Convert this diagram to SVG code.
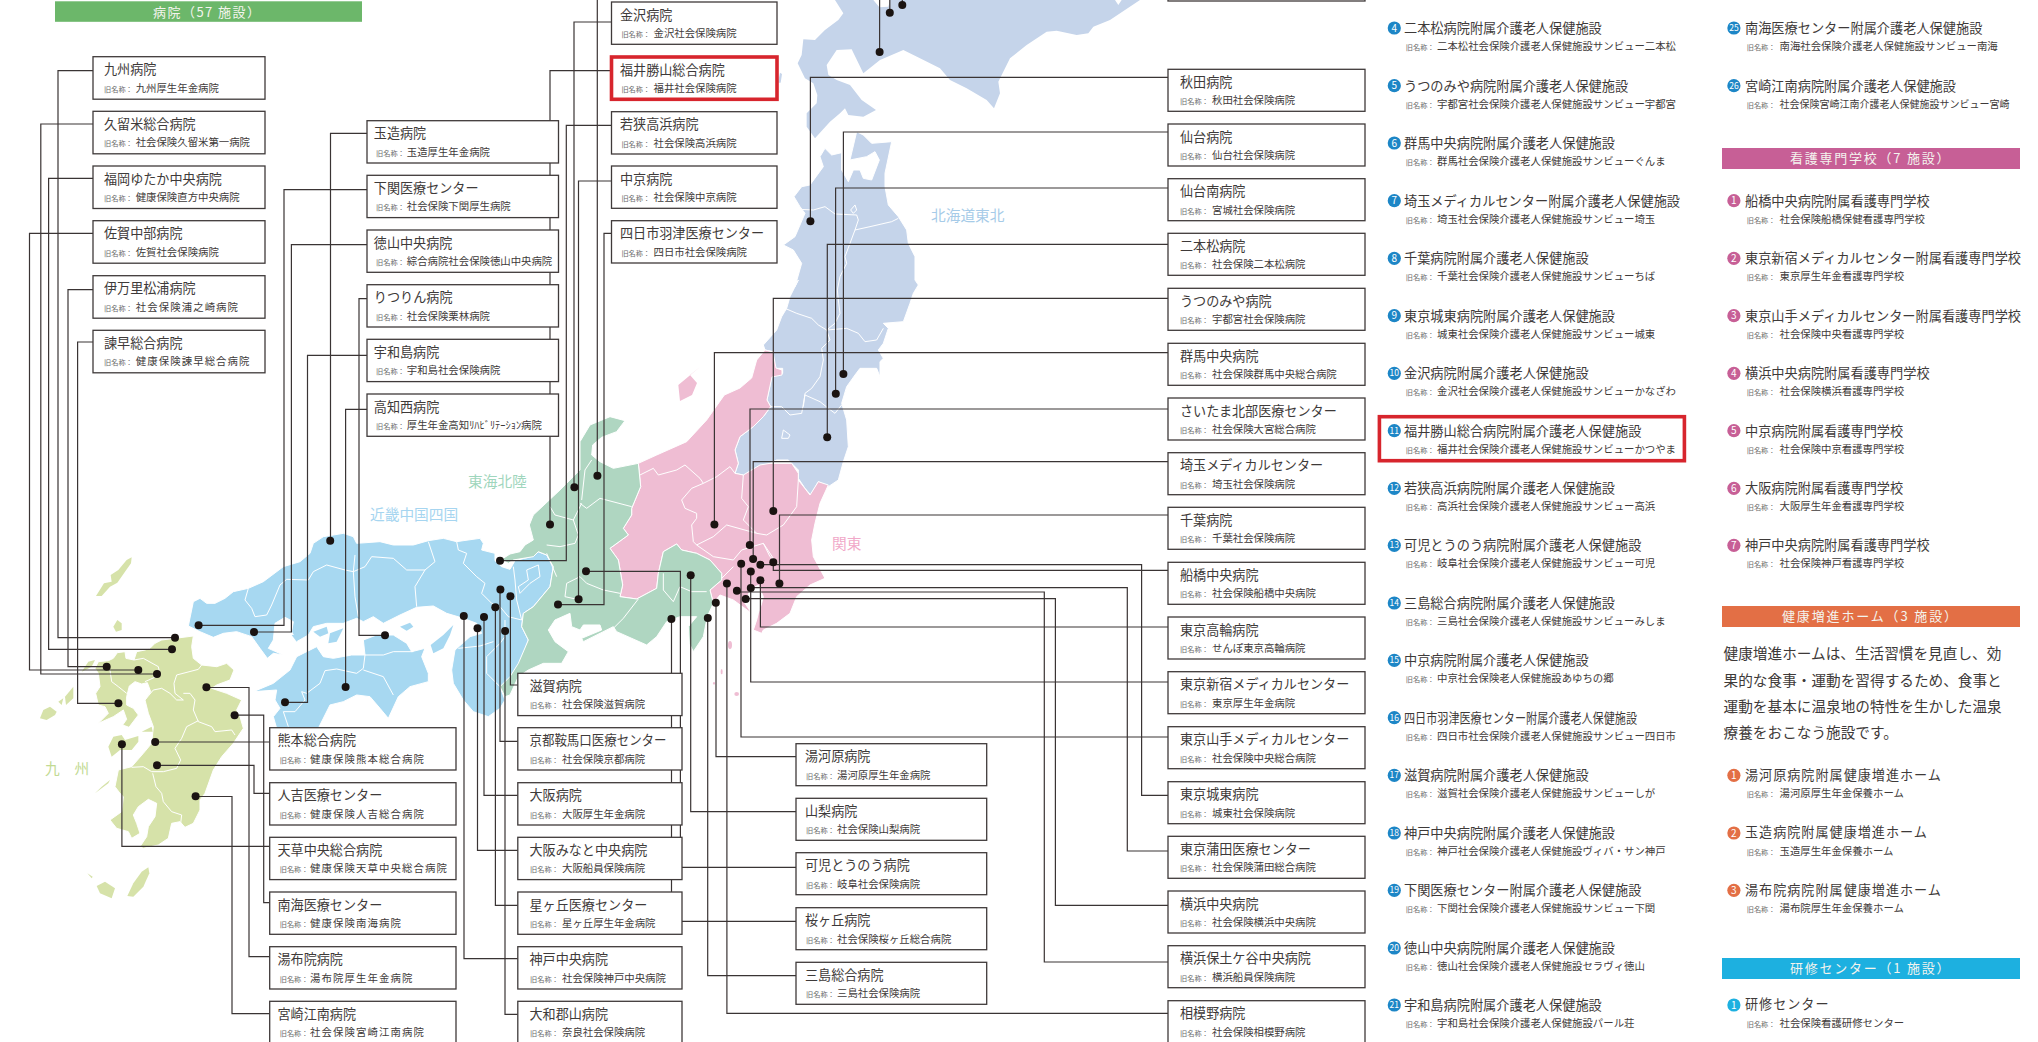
<svg xmlns="http://www.w3.org/2000/svg" width="2038" height="1042" viewBox="0 0 2038 1042">
<style>
text{font-family:"Noto Sans CJK JP","Noto Sans",sans-serif;fill:#3e3a39}
.b{fill:#fff;stroke:#3f3a3a;stroke-width:1.3}
.r{fill:#fff;stroke:#d7252d;stroke-width:3.6}
.t{font-size:13.1px;transform:translateY(-.6px)}
#care-list .t,#nursing-list .t{font-size:13.2px;transform:none}
.s{font-size:10.4px}
.k{font-size:7.2px;fill:#6a6a6a;letter-spacing:0}
.w{letter-spacing:1.1px}
.sp{letter-spacing:1px}
.c{fill:none;stroke:#3a3434;stroke-width:1.2}
.d{fill:#1a1311}
.m{stroke:#fff;stroke-width:3;stroke-linejoin:round}
.l{fill:none;stroke:#fff;stroke-width:3;stroke-linejoin:round}
.ky{fill:#d6e2a9}.bl{fill:#a7d8f1}.gr{fill:#afd6c1}.pk{fill:#efbdd3}.hk{fill:#c5d4ea}
.h{font-size:13px;fill:#f4f4ee}
.ml{font-size:14.7px}
.p{font-size:14.65px}
.n{font-size:10px;fill:#fff;text-anchor:middle}
.n2{font-size:8.5px;fill:#fff;text-anchor:middle}
</style>

<g id="map">
<g transform="translate(30 530) scale(.33333)" id="map-kyushu">
<path class="ky m" d="M375,340L395,330L435,325L490,318L485,350L490,385L515,405L560,410L590,400L612,420L600,450L560,465L545,475L590,490L635,510L620,540L630,560L640,595L610,640L575,680L550,720L525,790L510,810L510,840L490,880L465,892L450,875L425,880L415,925L385,945L340,955L330,950L350,920L355,890L375,860L380,820L355,808L325,830L310,855L320,880L330,910L305,925L295,905L260,895L240,870L275,845L280,800L270,790L255,770L265,720L305,710L340,670L365,640L370,590L355,550L345,510L362,485L352,458L335,462L315,455L298,468L290,500L290,525L310,535L325,555L297,592L278,585L290,568L280,540L250,560L205,580L235,550L225,530L205,525L197,490L210,470L205,430L195,415L205,395L235,392L250,385L262,368L285,365L288,385L312,390L320,365L345,360L360,355Z"/>
<path class="ky" d="M305,82L290,90L265,120L242,135L245,155L222,160L198,198L215,198L240,170L262,158L285,125L303,100Z"/>
<path class="ky" d="M262,270L250,290L258,305L275,300L275,280Z"/>
<path class="ky" d="M30,565L40,540L60,530L80,545L75,555L50,570Z"/>
<path class="ky" d="M130,470L105,500L108,525L130,505Z"/>
<path class="ky" d="M85,515L100,505L95,525Z"/>
<path class="ky" d="M235,650L250,620L275,615L285,630L325,618L325,635L305,660L270,660L245,680Z"/>
<path class="ky" d="M335,605L365,590L368,605Z"/>
<path class="ky" d="M195,790L215,770L240,750L235,760L215,775Z"/>
<path class="ky" d="M200,1068L225,1055L255,1075L245,1105L210,1090Z"/>
<path class="ky" d="M355,1012L358,1030L340,1070L310,1100L292,1098L310,1060L335,1025Z"/>
<path class="ky" d="M172,1030L188,1040L185,1045Z"/>
<path class="ky" d="M155,425L175,395L195,390L185,410Z"/>
<path class="l" d="M515,405L505,418L440,435L432,460L435,490L460,510L440,510L420,490L395,475L370,480L345,510"/>
<path class="l" d="M460,490L480,490L495,510L490,540L505,575L545,590L555,605L605,600L615,615"/>
<path class="l" d="M505,572L470,590L455,625L435,655L452,690L440,715L400,725L365,725L340,710L305,712"/>
<path class="l" d="M368,730L378,770L395,790L400,815L425,845L455,855L452,880"/>
<path class="l" d="M312,390L340,385L385,410L390,435L345,455"/>
<path class="l" d="M240,420L245,455L265,470L290,490"/>
</g>
<g transform="translate(180 520) scale(.33333)" id="map-kinki">
<path class="bl m" d="M25,318L40,245L60,235L80,250L105,250L135,235L160,215L205,205L250,185L310,140L360,125L390,100L400,70L430,50L490,40L520,50L530,70L600,65L640,75L700,75L745,62L790,55L830,65L850,62L900,55L910,70L905,90L945,100L945,122L965,140L990,148L1005,122L1060,108L1074,95L1100,105L1120,140L1110,200L1060,260L1030,280L1025,320L1045,360L1020,430L1015,470L960,500L975,540L960,565L925,590L880,575L850,540L820,490L815,450L825,390L870,350L905,340L890,310L850,295L800,280L760,258L710,262L660,285L610,310L580,290L550,305L530,295L490,310L440,310L400,320L385,345L350,365L335,335L340,305L315,292L285,310L280,360L265,385L310,405L280,400L262,415L240,385L215,350L170,335L130,340L100,352L60,335Z"/>
<path class="bl" d="M820,315L790,345L752,375L760,400L790,385L810,345Z"/>
<path class="bl" d="M660,320L690,308L700,320L680,332Z"/>
<path class="bl" d="M400,335L440,320L445,340L420,350Z"/>
<path class="bl" d="M450,340L490,325L470,365L445,370Z"/>
<path class="bl" d="M335,345L355,345L350,365Z"/>
<path class="bl m" d="M220,515L280,490L330,450L350,410L410,380L430,410L460,415L515,405L555,405L550,360L590,345L640,345L680,370L695,395L735,385L725,410L745,460L745,485L690,500L655,530L625,595L600,565L570,530L530,525L490,545L450,555L415,625L290,625L280,590L300,565L285,540L290,510Z"/>
<path class="l" d="M205,205L195,240L215,265L225,290L260,285L275,255L300,195L320,178L385,180L400,155L440,135L495,150L520,155L525,105"/>
<path class="l" d="M520,155L525,230L535,290"/>
<path class="l" d="M520,155L555,140L575,110L640,115L680,150L735,150L765,125L745,65"/>
<path class="l" d="M735,150L705,200L710,260"/>
<path class="l" d="M830,65L835,90L860,100L850,130L890,170L915,190L905,220L935,250L960,260L985,290L1025,300"/>
<path class="l" d="M1000,140L1005,180L1010,240L1025,300"/>
<path class="l" d="M1040,150L1075,135L1080,170L1050,190L1020,220L1015,200L1045,180Z"/>
<path class="l" d="M975,300L975,350L960,370L920,410L920,460L960,500"/>
<path class="l" d="M835,385L900,378L940,365"/>
<path class="l" d="M555,405L550,445L530,460L470,447L435,452L420,490L380,520L365,515L375,540L345,575L310,575L325,620"/>
<path class="l" d="M555,405L610,405L640,395L700,395"/>
<path class="l" d="M550,450L610,470L640,525"/>
</g>
<g transform="translate(760 0) scale(.33333)" id="map-tohoku">
<path class="hk" d="M225,0L250,40L235,60L195,90L165,120L130,118L125,165L113,190L135,235L160,250L172,285L170,310L140,340L140,380L165,415L210,365L240,340L255,325L265,345L310,350L348,330L305,300L270,255L230,240L205,225L200,195L230,150L275,148L310,220L360,180L430,150L480,175L540,205L570,240L620,265L680,300L702,325L720,280L715,245L750,175L800,135L860,95L890,92L950,105L985,100L1000,80L1050,60L1104,24L1140,0L1085,0L1075,15L1065,0L390,0L385,20L358,22L340,0Z"/>
<path class="hk" d="M60,218L66,222L62,248L54,248Z"/>
<path class="hk m" d="M195,445L215,465L245,458L245,510L265,545L280,510L300,510L310,535L335,540L358,480L345,455L320,470L270,480L290,395L310,405L335,430L395,425L375,520L375,560L385,615L415,650L440,690L445,730L465,770L465,840L475,855L460,880L450,910L430,965L370,970L385,985L370,1030L355,1050L370,1075L360,1085L360,1130L350,1105L300,1105L285,1125L260,1160L245,1210L260,1260L265,1340L250,1385L235,1440L205,1460L175,1445L152,1485L135,1465L115,1435L115,1410L85,1380L50,1380L10,1400L-30,1415L-60,1435L-50,1425L-75,1420L-65,1390L-75,1350L-60,1310L-20,1280L10,1250L32,1220L21,1200L35,1130L68,1120L68,1105L40,1105L40,1055L15,1050L10,1035L50,990L65,950L80,925L90,890L115,840L105,860L125,790L100,750L70,735L105,710L135,640L120,620L102,590L125,560L150,555L190,500L180,470Z"/>
<path class="l" d="M120,628L160,630L195,620L225,642L290,645L295,660L285,690L330,680L395,665L415,655"/>
<path class="l" d="M272,630L285,615L290,630L280,640Z"/>
<path class="l" d="M285,690L270,730L255,770L260,790L240,830L232,870L235,900L240,940L225,970L200,990L210,1020L185,1045L190,1080L180,1130L155,1165L135,1180L130,1220"/>
<path class="l" d="M75,925L110,940L155,955L175,975L200,990L260,985L295,1000L315,1025L350,1020L370,985"/>
<path class="l" d="M135,1185L180,1205L205,1225L225,1240L245,1215"/>
<path class="l" d="M25,1220L65,1220L90,1245L125,1240L135,1185"/>
<path class="l" d="M70,1290L90,1305L85,1315L65,1315Z"/>
</g>
<g transform="translate(500 400) scale(.33333)" id="map-chubu">
<path class="pk m" d="M415,190L470,165L560,125L620,60L673,-15L720,-36L755,-66L770,-120L795,-150L819,-144L828,-96L846,-90L846,-75L816,-69L801,0L812,20L790,50L760,80L720,110L705,150L715,190L705,220L730,225L780,195L810,190L875,190L895,220L895,240L930,285L955,245L985,255L960,310L945,370L935,420L940,470L975,535L930,555L890,590L870,640L830,670L790,690L785,700L760,690L770,660L775,640L785,610L790,590L775,555L750,570L735,610L755,640L700,600L660,585L640,610L630,570L665,540L665,520L630,480L590,460L545,450L530,432L490,455L475,520L470,565L410,597L360,590L368,555L355,480L330,445L385,405L370,385L395,345L395,325L422,260Z"/>
<path class="pk" d="M600,-99L570,-75L591,-51L576,-15L540,3L535,-45Z"/>
<ellipse class="pk" cx="690" cy="735" rx="6" ry="12"/><ellipse class="pk" cx="665" cy="815" rx="3" ry="8"/><ellipse class="pk" cx="710" cy="882" rx="7" ry="6"/><ellipse class="pk" cx="642" cy="850" rx="3" ry="4"/>
<path class="gr m" d="M240,125L270,75L330,50L375,62L350,95L305,112L278,135L275,165L300,185L340,205L415,190L422,260L395,325L395,345L370,385L385,405L330,445L355,480L368,555L360,590L410,597L470,565L475,520L490,455L530,432L545,450L590,460L630,480L665,520L665,540L630,570L640,610L622,650L610,710L580,755L568,730L565,680L590,650L540,650L500,665L470,710L440,735L350,695L340,680L250,725L245,715L305,690L300,675L250,675L240,690L215,680L210,640L165,660L145,690L165,725L205,755L185,790L130,790L85,810L55,830L30,885L15,890L0,860L30,830L55,790L85,720L65,680L70,640L100,620L150,560L160,500L140,465L115,455L100,470L40,480L25,490L5,478L30,462L60,455L75,435L100,420L88,375L100,345L180,270L240,210Z"/>
<path class="l" d="M420,225L460,205L475,225L530,210L555,195L600,235L610,250L575,265L545,300L555,325L590,340L590,355L575,375L580,425L590,435"/>
<path class="l" d="M610,250L650,230L690,200L705,220"/>
<path class="l" d="M730,225L725,295L745,320L730,360L770,400"/>
<path class="l" d="M895,240L890,320L850,375L800,405L770,400L680,375L640,410L590,435"/>
<path class="l" d="M590,435L640,470L700,480L725,450L790,430L820,475"/>
<path class="l" d="M665,535L700,500"/>
<path class="l" d="M790,430L810,470L835,490"/>
<path class="l" d="M240,310L260,325L300,295L395,320"/>
<path class="l" d="M275,180L255,210L245,300"/>
<path class="l" d="M150,320L165,345L220,360L245,310"/>
<path class="l" d="M140,435L180,440L225,430L235,405L220,360"/>
<path class="l" d="M140,460L170,530"/>
<path class="l" d="M200,550L240,530L260,550L310,570L360,580"/>
<path class="l" d="M200,550L195,590L240,600"/>
<path class="l" d="M415,597L370,655L340,685"/>
<path class="l" d="M490,520L490,570L520,605L540,560L575,575L620,575"/>
</g>
<text class="ml" x="45" y="774" style="fill:#c2da93">九　州</text>
<text class="ml" x="370" y="520" style="fill:#a6d5f0">近畿中国四国</text>
<text class="ml" x="468" y="487" style="fill:#9fd6bd">東海北陸</text>
<text class="ml" x="931" y="221" style="fill:#a6cbe8">北海道東北</text>
<text class="ml" x="832" y="549" style="fill:#f1a9c9">関東</text>
</g>

<g id="connectors">
<path class="c" d="M93,70.7H58V637.7H175"/>
<path class="c" d="M93,124H40.8V674H157"/>
<path class="c" d="M93,178.3H48.6V649.3H172"/>
<path class="c" d="M93,233.3H29.5V670H138.3"/>
<path class="c" d="M93,289.7H68V666.7H106.7"/>
<path class="c" d="M93,342H77.6V703.3H118.4"/>
<path class="c" d="M367,133.3H330.5V540.7"/>
<path class="c" d="M367,189.7H284V625.3H198.6"/>
<path class="c" d="M367,244.7H291.4V632H254"/>
<path class="c" d="M367,298.7H359V635.3H385"/>
<path class="c" d="M367,355.3H307.5V702.3H285"/>
<path class="c" d="M367,409.3H345.6V687"/>
<path class="c" d="M611.5,22H574V487.3"/>
<path class="c" d="M611.5,70.7H550V524.7"/>
<path class="c" d="M611.5,125.3H566.3V560.7H500"/>
<path class="c" d="M611.5,181H578.5V599.3"/>
<path class="c" d="M611.5,233.3H604V604.7H558"/>
<path class="c" d="M597.3,0V475.7"/>
<path class="c" d="M879.6,0V52"/>
<path class="c" d="M889.8,0V12.7"/>
<path class="c" d="M902.3,0V5"/>
<path class="c" d="M1168,77.3H810.4V221.3"/>
<path class="c" d="M1168,132H843.4V374"/>
<path class="c" d="M1168,188H835.6V393.7"/>
<path class="c" d="M1168,244.3H827.3V437.3"/>
<path class="c" d="M1168,298.3H773.3V511"/>
<path class="c" d="M1168,352.7H714.4V524.7"/>
<path class="c" d="M1168,409H750V545"/>
<path class="c" d="M1168,461.7H753.2V559"/>
<path class="c" d="M1168,515H779.5V583.5"/>
<path class="c" d="M1168,570.3H773.3V562.3"/>
<path class="c" d="M1168,627H760.4V580"/>
<path class="c" d="M1168,682H750.7V571.5"/>
<path class="c" d="M1168,737H741V564"/>
<path class="c" d="M1168,795.3H1141.6V564.7H760.4"/>
<path class="c" d="M1168,851H1127.3V587.7H750.7"/>
<path class="c" d="M1168,905.3H1055.4V598.7H745.6"/>
<path class="c" d="M1168,962H1044.3V592H736.7"/>
<path class="c" d="M1168,1013.3H726.9V583.7"/>
<path class="c" d="M796,756.7H716V603"/>
<path class="c" d="M796,811.7H690.7V575.3"/>
<path class="c" d="M796,867.3H680.4V571.3H586"/>
<path class="c" d="M796,921.3H671.5V619"/>
<path class="c" d="M796,975.7H707.7V618"/>
<path class="c" d="M517.8,685H510.4V596.3"/>
<path class="c" d="M517.8,741.3H500V589.7"/>
<path class="c" d="M517.8,795.3H484V617"/>
<path class="c" d="M517.8,850.3H477.5V628.3"/>
<path class="c" d="M517.8,905.3H495.4V607.3"/>
<path class="c" d="M517.8,958.7H464V616"/>
<path class="c" d="M517.8,1014.3H505V631"/>
<path class="c" d="M269.7,742H155.2"/>
<path class="c" d="M269.7,793.3H254V765.3H157"/>
<path class="c" d="M269.7,846.3H121.9V744.3"/>
<path class="c" d="M269.7,902.7H263.7V715.2H234.6"/>
<path class="c" d="M269.7,956.7H249V687.5H206.4"/>
<path class="c" d="M269.7,1013.7H232V796.5H195.6"/>
<g class="d">
<circle cx="175" cy="637.7" r="4"/><circle cx="157" cy="674" r="4"/><circle cx="172" cy="649.3" r="4"/><circle cx="138.3" cy="670" r="4"/><circle cx="106.7" cy="666.7" r="4"/><circle cx="118.4" cy="703.3" r="4"/>
<circle cx="330.2" cy="540.7" r="4"/><circle cx="198.6" cy="625.3" r="4"/><circle cx="254" cy="632" r="4"/><circle cx="385" cy="635.3" r="4"/><circle cx="285" cy="702.3" r="4"/><circle cx="345.6" cy="687" r="4"/>
<circle cx="574.4" cy="487.3" r="4"/><circle cx="550" cy="524.5" r="4"/><circle cx="500" cy="560.7" r="4"/><circle cx="578.6" cy="599.3" r="4"/><circle cx="558" cy="604.6" r="4"/><circle cx="597.4" cy="475.7" r="4"/>
<circle cx="879.6" cy="52" r="4"/><circle cx="889.8" cy="12.7" r="4"/><circle cx="902.3" cy="5" r="4"/>
<circle cx="810.4" cy="221.3" r="4"/><circle cx="843.4" cy="374" r="4"/><circle cx="835.8" cy="393.7" r="4"/><circle cx="827.2" cy="437.2" r="4"/><circle cx="773.3" cy="511" r="4"/><circle cx="714.4" cy="524.5" r="4"/><circle cx="749.8" cy="545" r="4"/><circle cx="753.1" cy="559" r="4"/><circle cx="779.4" cy="583.6" r="4"/><circle cx="773.3" cy="562.3" r="4"/><circle cx="760.4" cy="580.2" r="4"/><circle cx="750.8" cy="571.6" r="4"/><circle cx="741.2" cy="563.8" r="4"/><circle cx="760.4" cy="564.8" r="4"/><circle cx="750.8" cy="588" r="4"/><circle cx="745.7" cy="599" r="4"/><circle cx="736.9" cy="590.7" r="4"/><circle cx="726.9" cy="583.5" r="4"/><circle cx="715.8" cy="602.8" r="4"/><circle cx="690.7" cy="575.3" r="4"/><circle cx="586" cy="571.3" r="4"/><circle cx="671.4" cy="619" r="4"/><circle cx="707.8" cy="618" r="4"/>
<circle cx="510.4" cy="596.2" r="4"/><circle cx="500.4" cy="589.5" r="4"/><circle cx="484" cy="617" r="4"/><circle cx="477.5" cy="628.3" r="4"/><circle cx="495.3" cy="607.3" r="4"/><circle cx="463.8" cy="616" r="4"/><circle cx="505.1" cy="631" r="4"/>
<circle cx="155.2" cy="742" r="4"/><circle cx="157" cy="765.3" r="4"/><circle cx="121.9" cy="744.3" r="4"/><circle cx="234.6" cy="715.3" r="4"/><circle cx="206.4" cy="687.2" r="4"/><circle cx="195.6" cy="796.2" r="4"/>
</g>
</g>

<g id="hospital-header"><rect x="55" y="1.3" width="307" height="20.5" fill="#6cb76a"/><text class="h" x="153" y="16.5" textLength="107">病院（57 施設）</text></g>

<g id="n-kyushu"><rect class="b" x="93" y="56.7" width="172" height="42.5"/><text class="t" x="104" y="75">九州病院</text><text class="s" x="104" y="91.7"><tspan class="k">旧名称：</tspan><tspan x="135.7">九州厚生年金病院</tspan></text></g>
<g id="n-kurume"><rect class="b" x="93" y="111.3" width="172" height="42.5"/><text class="t" x="104" y="129.6">久留米総合病院</text><text class="s" x="104" y="146.3"><tspan class="k">旧名称：</tspan><tspan x="135.7">社会保険久留米第一病院</tspan></text></g>
<g id="n-fukuoka"><rect class="b" x="93" y="166" width="172" height="42.5"/><text class="t" x="104" y="184.3">福岡ゆたか中央病院</text><text class="s" x="104" y="201"><tspan class="k">旧名称：</tspan><tspan x="135.7">健康保険直方中央病院</tspan></text></g>
<g id="n-saga"><rect class="b" x="93" y="220.7" width="172" height="42.5"/><text class="t" x="104" y="239">佐賀中部病院</text><text class="s" x="104" y="255.7"><tspan class="k">旧名称：</tspan><tspan x="135.7">佐賀社会保険病院</tspan></text></g>
<g id="n-imari"><rect class="b" x="93" y="275.7" width="172" height="42.5"/><text class="t" x="104" y="294">伊万里松浦病院</text><text class="s w" x="104" y="310.7"><tspan class="k">旧名称：</tspan><tspan x="135.7">社会保険浦之崎病院</tspan></text></g>
<g id="n-isahaya"><rect class="b" x="93" y="330.3" width="172" height="42.5"/><text class="t" x="104" y="348.6">諫早総合病院</text><text class="s w" x="104" y="365.3"><tspan class="k">旧名称：</tspan><tspan x="135.7">健康保険諫早総合病院</tspan></text></g>

<g id="n-tamatsukuri"><rect class="b" x="367" y="120.7" width="191.5" height="42.3"/><text class="t" x="373.8" y="139">玉造病院</text><text class="s" x="376" y="155.7"><tspan class="k">旧名称：</tspan><tspan x="406.8">玉造厚生年金病院</tspan></text></g>
<g id="n-shimonoseki"><rect class="b" x="367" y="175.3" width="191.5" height="42.3"/><text class="t" x="373.8" y="193.6">下関医療センター</text><text class="s" x="376" y="210.3"><tspan class="k">旧名称：</tspan><tspan x="406.8">社会保険下関厚生病院</tspan></text></g>
<g id="n-tokuyama"><rect class="b" x="367" y="230" width="191.5" height="42.3"/><text class="t" x="373.8" y="248.3">徳山中央病院</text><text class="s" x="376" y="265"><tspan class="k">旧名称：</tspan><tspan x="406.8">綜合病院社会保険徳山中央病院</tspan></text></g>
<g id="n-ritsurin"><rect class="b" x="367" y="284.7" width="191.5" height="42.3"/><text class="t" x="373.8" y="303">りつりん病院</text><text class="s" x="376" y="319.7"><tspan class="k">旧名称：</tspan><tspan x="406.8">社会保険栗林病院</tspan></text></g>
<g id="n-uwajima"><rect class="b" x="367" y="339.3" width="191.5" height="42.3"/><text class="t" x="373.8" y="357.6">宇和島病院</text><text class="s" x="376" y="374.3"><tspan class="k">旧名称：</tspan><tspan x="406.8">宇和島社会保険病院</tspan></text></g>
<g id="n-kochinishi"><rect class="b" x="367" y="394" width="191.5" height="42.3"/><text class="t" x="373.8" y="412.3">高知西病院</text><text class="s" x="376" y="429"><tspan class="k">旧名称：</tspan><tspan x="406.8">厚生年金高知ﾘﾊﾋﾞﾘﾃｰｼｮﾝ病院</tspan></text></g>

<g id="n-kanazawa"><rect class="b" x="611.5" y="2" width="165.5" height="42.3"/><text class="t" x="620" y="20.3">金沢病院</text><text class="s" x="621.4" y="37"><tspan class="k">旧名称：</tspan><tspan x="653.5">金沢社会保険病院</tspan></text></g>
<g id="n-fukui"><rect class="r" x="611.5" y="57" width="165.5" height="42.3"/><text class="t" x="620" y="75.3">福井勝山総合病院</text><text class="s" x="621.4" y="92"><tspan class="k">旧名称：</tspan><tspan x="653.5">福井社会保険病院</tspan></text></g>
<g id="n-wakasa"><rect class="b" x="611.5" y="111.7" width="165.5" height="42.3"/><text class="t" x="620" y="130">若狭高浜病院</text><text class="s" x="621.4" y="146.7"><tspan class="k">旧名称：</tspan><tspan x="653.5">社会保険高浜病院</tspan></text></g>
<g id="n-chukyo"><rect class="b" x="611.5" y="166" width="165.5" height="42.3"/><text class="t" x="620" y="184.3">中京病院</text><text class="s" x="621.4" y="201"><tspan class="k">旧名称：</tspan><tspan x="653.5">社会保険中京病院</tspan></text></g>
<g id="n-yokkaichi"><rect class="b" x="611.5" y="220.7" width="165.5" height="42.3"/><text class="t" x="620" y="239">四日市羽津医療センター</text><text class="s" x="621.4" y="255.7"><tspan class="k">旧名称：</tspan><tspan x="653.5">四日市社会保険病院</tspan></text></g>

<g id="n-top"><rect class="b" x="1168" y="-41" width="197" height="42"/></g>
<g id="n-akita"><rect class="b" x="1168" y="69.3" width="197" height="42"/><text class="t" x="1180" y="87.6">秋田病院</text><text class="s" x="1180" y="104.3"><tspan class="k">旧名称：</tspan><tspan x="1212">秋田社会保険病院</tspan></text></g>
<g id="n-sendai"><rect class="b" x="1168" y="124" width="197" height="42"/><text class="t" x="1180" y="142.3">仙台病院</text><text class="s" x="1180" y="159"><tspan class="k">旧名称：</tspan><tspan x="1212">仙台社会保険病院</tspan></text></g>
<g id="n-sendaiminami"><rect class="b" x="1168" y="178.7" width="197" height="42"/><text class="t" x="1180" y="197">仙台南病院</text><text class="s" x="1180" y="213.7"><tspan class="k">旧名称：</tspan><tspan x="1212">宮城社会保険病院</tspan></text></g>
<g id="n-nihonmatsu"><rect class="b" x="1168" y="233.3" width="197" height="42"/><text class="t" x="1180" y="251.6">二本松病院</text><text class="s" x="1180" y="268.3"><tspan class="k">旧名称：</tspan><tspan x="1212">社会保険二本松病院</tspan></text></g>
<g id="n-utsunomiya"><rect class="b" x="1168" y="288.3" width="197" height="42"/><text class="t" x="1180" y="306.6">うつのみや病院</text><text class="s" x="1180" y="323.3"><tspan class="k">旧名称：</tspan><tspan x="1212">宇都宮社会保険病院</tspan></text></g>
<g id="n-gunma"><rect class="b" x="1168" y="343.3" width="197" height="42"/><text class="t" x="1180" y="361.6">群馬中央病院</text><text class="s" x="1180" y="378.3"><tspan class="k">旧名称：</tspan><tspan x="1212">社会保険群馬中央総合病院</tspan></text></g>
<g id="n-saitamahokubu"><rect class="b" x="1168" y="398" width="197" height="42"/><text class="t" x="1180" y="416.3">さいたま北部医療センター</text><text class="s" x="1180" y="433"><tspan class="k">旧名称：</tspan><tspan x="1212">社会保険大宮総合病院</tspan></text></g>
<g id="n-saitama"><rect class="b" x="1168" y="452.7" width="197" height="42"/><text class="t" x="1180" y="471">埼玉メディカルセンター</text><text class="s" x="1180" y="487.7"><tspan class="k">旧名称：</tspan><tspan x="1212">埼玉社会保険病院</tspan></text></g>
<g id="n-chiba"><rect class="b" x="1168" y="507.3" width="197" height="42"/><text class="t" x="1180" y="525.6">千葉病院</text><text class="s" x="1180" y="542.3"><tspan class="k">旧名称：</tspan><tspan x="1212">千葉社会保険病院</tspan></text></g>
<g id="n-funabashi"><rect class="b" x="1168" y="562.3" width="197" height="42"/><text class="t" x="1180" y="580.6">船橋中央病院</text><text class="s" x="1180" y="597.3"><tspan class="k">旧名称：</tspan><tspan x="1212">社会保険船橋中央病院</tspan></text></g>
<g id="n-takanawa"><rect class="b" x="1168" y="617" width="197" height="42"/><text class="t" x="1180" y="635.3">東京高輪病院</text><text class="s" x="1180" y="652"><tspan class="k">旧名称：</tspan><tspan x="1212">せんぽ東京高輪病院</tspan></text></g>
<g id="n-shinjuku"><rect class="b" x="1168" y="671.7" width="197" height="42"/><text class="t" x="1180" y="690">東京新宿メディカルセンター</text><text class="s" x="1180" y="706.7"><tspan class="k">旧名称：</tspan><tspan x="1212">東京厚生年金病院</tspan></text></g>
<g id="n-yamate"><rect class="b" x="1168" y="726.7" width="197" height="42"/><text class="t" x="1180" y="745">東京山手メディカルセンター</text><text class="s" x="1180" y="761.7"><tspan class="k">旧名称：</tspan><tspan x="1212">社会保険中央総合病院</tspan></text></g>
<g id="n-joto"><rect class="b" x="1168" y="781.7" width="197" height="42"/><text class="t" x="1180" y="800">東京城東病院</text><text class="s" x="1180" y="816.7"><tspan class="k">旧名称：</tspan><tspan x="1212">城東社会保険病院</tspan></text></g>
<g id="n-kamata"><rect class="b" x="1168" y="836.3" width="197" height="42"/><text class="t" x="1180" y="854.6">東京蒲田医療センター</text><text class="s" x="1180" y="871.3"><tspan class="k">旧名称：</tspan><tspan x="1212">社会保険蒲田総合病院</tspan></text></g>
<g id="n-yokohama"><rect class="b" x="1168" y="891" width="197" height="42"/><text class="t" x="1180" y="909.3">横浜中央病院</text><text class="s" x="1180" y="926"><tspan class="k">旧名称：</tspan><tspan x="1212">社会保険横浜中央病院</tspan></text></g>
<g id="n-hodogaya"><rect class="b" x="1168" y="945.7" width="197" height="42"/><text class="t" x="1180" y="964">横浜保土ケ谷中央病院</text><text class="s" x="1180" y="980.7"><tspan class="k">旧名称：</tspan><tspan x="1212">横浜船員保険病院</tspan></text></g>
<g id="n-sagamino"><rect class="b" x="1168" y="1000.7" width="197" height="42"/><text class="t" x="1180" y="1019">相模野病院</text><text class="s" x="1180" y="1035.7"><tspan class="k">旧名称：</tspan><tspan x="1212">社会保険相模野病院</tspan></text></g>

<g id="n-kumamoto"><rect class="b" x="269.7" y="727.7" width="186.3" height="42.3"/><text class="t" x="277.5" y="746">熊本総合病院</text><text class="s w" x="279.7" y="762.7"><tspan class="k">旧名称：</tspan><tspan x="310">健康保険熊本総合病院</tspan></text></g>
<g id="n-hitoyoshi"><rect class="b" x="269.7" y="782.7" width="186.3" height="42.3"/><text class="t" x="277.5" y="801">人吉医療センター</text><text class="s w" x="279.7" y="817.7"><tspan class="k">旧名称：</tspan><tspan x="310">健康保険人吉総合病院</tspan></text></g>
<g id="n-amakusa"><rect class="b" x="269.7" y="837.3" width="186.3" height="42.3"/><text class="t" x="277.5" y="855.6">天草中央総合病院</text><text class="s w" x="279.7" y="872.3"><tspan class="k">旧名称：</tspan><tspan x="310">健康保険天草中央総合病院</tspan></text></g>
<g id="n-nankai"><rect class="b" x="269.7" y="892" width="186.3" height="42.3"/><text class="t" x="277.5" y="910.3">南海医療センター</text><text class="s w" x="279.7" y="927"><tspan class="k">旧名称：</tspan><tspan x="310">健康保険南海病院</tspan></text></g>
<g id="n-yufuin"><rect class="b" x="269.7" y="946.7" width="186.3" height="42.3"/><text class="t" x="277.5" y="965">湯布院病院</text><text class="s w" x="279.7" y="981.7"><tspan class="k">旧名称：</tspan><tspan x="310">湯布院厚生年金病院</tspan></text></g>
<g id="n-miyazaki"><rect class="b" x="269.7" y="1001.3" width="186.3" height="42.3"/><text class="t" x="277.5" y="1019.6">宮崎江南病院</text><text class="s w" x="279.7" y="1036.3"><tspan class="k">旧名称：</tspan><tspan x="310">社会保険宮崎江南病院</tspan></text></g>

<g id="n-shiga"><rect class="b" x="517.8" y="673.3" width="164.2" height="42.3"/><text class="t" x="529.5" y="691.6">滋賀病院</text><text class="s" x="530" y="708.3"><tspan class="k">旧名称：</tspan><tspan x="562">社会保険滋賀病院</tspan></text></g>
<g id="n-kyoto"><rect class="b" x="517.8" y="727.7" width="164.2" height="42.3"/><text class="t" x="529.5" y="746" textLength="137" lengthAdjust="spacingAndGlyphs">京都鞍馬口医療センター</text><text class="s" x="530" y="762.7"><tspan class="k">旧名称：</tspan><tspan x="562">社会保険京都病院</tspan></text></g>
<g id="n-osaka"><rect class="b" x="517.8" y="782.7" width="164.2" height="42.3"/><text class="t" x="529.5" y="801">大阪病院</text><text class="s" x="530" y="817.7"><tspan class="k">旧名称：</tspan><tspan x="562">大阪厚生年金病院</tspan></text></g>
<g id="n-minato"><rect class="b" x="517.8" y="837.3" width="164.2" height="42.3"/><text class="t" x="529.5" y="855.6">大阪みなと中央病院</text><text class="s" x="530" y="872.3"><tspan class="k">旧名称：</tspan><tspan x="562">大阪船員保険病院</tspan></text></g>
<g id="n-hoshigaoka"><rect class="b" x="517.8" y="892" width="164.2" height="42.3"/><text class="t" x="529.5" y="910.3">星ヶ丘医療センター</text><text class="s" x="530" y="927"><tspan class="k">旧名称：</tspan><tspan x="562">星ヶ丘厚生年金病院</tspan></text></g>
<g id="n-kobe"><rect class="b" x="517.8" y="946.7" width="164.2" height="42.3"/><text class="t" x="529.5" y="965">神戸中央病院</text><text class="s" x="530" y="981.7"><tspan class="k">旧名称：</tspan><tspan x="562">社会保険神戸中央病院</tspan></text></g>
<g id="n-yamato"><rect class="b" x="517.8" y="1001.3" width="164.2" height="42.3"/><text class="t" x="529.5" y="1019.6">大和郡山病院</text><text class="s" x="530" y="1036.3"><tspan class="k">旧名称：</tspan><tspan x="562">奈良社会保険病院</tspan></text></g>

<g id="n-yugawara"><rect class="b" x="796" y="743.7" width="190.7" height="42"/><text class="t" x="805" y="762">湯河原病院</text><text class="s" x="806" y="778.7"><tspan class="k">旧名称：</tspan><tspan x="837">湯河原厚生年金病院</tspan></text></g>
<g id="n-yamanashi"><rect class="b" x="796" y="798.3" width="190.7" height="42"/><text class="t" x="805" y="816.6">山梨病院</text><text class="s" x="806" y="833.3"><tspan class="k">旧名称：</tspan><tspan x="837">社会保険山梨病院</tspan></text></g>
<g id="n-kani"><rect class="b" x="796" y="852.7" width="190.7" height="42"/><text class="t" x="805" y="871">可児とうのう病院</text><text class="s" x="806" y="887.7"><tspan class="k">旧名称：</tspan><tspan x="837">岐阜社会保険病院</tspan></text></g>
<g id="n-sakuragaoka"><rect class="b" x="796" y="907.7" width="190.7" height="42"/><text class="t" x="805" y="926">桜ヶ丘病院</text><text class="s" x="806" y="942.7"><tspan class="k">旧名称：</tspan><tspan x="837">社会保険桜ヶ丘総合病院</tspan></text></g>
<g id="n-mishima"><rect class="b" x="796" y="962.3" width="190.7" height="42"/><text class="t" x="805" y="980.6">三島総合病院</text><text class="s" x="806" y="997.3"><tspan class="k">旧名称：</tspan><tspan x="837">三島社会保険病院</tspan></text></g>

<g id="care-list">
<g id="c4"><circle cx="1394.3" cy="28" r="6.6" fill="#1d86c6"/><text class="n" x="1394.3" y="31.6">4</text><text class="t" x="1404" y="33">二本松病院附属介護老人保健施設</text><text class="s" x="1405.8" y="50"><tspan class="k">旧名称：</tspan><tspan x="1437">二本松社会保険介護老人保健施設サンビュー二本松</tspan></text></g>
<g id="c5"><circle cx="1394.3" cy="85.7" r="6.6" fill="#1d86c6"/><text class="n" x="1394.3" y="89.3">5</text><text class="t" x="1404" y="90.7">うつのみや病院附属介護老人保健施設</text><text class="s" x="1405.8" y="107.7"><tspan class="k">旧名称：</tspan><tspan x="1437">宇都宮社会保険介護老人保健施設サンビュー宇都宮</tspan></text></g>
<g id="c6"><circle cx="1394.3" cy="143" r="6.6" fill="#1d86c6"/><text class="n" x="1394.3" y="146.6">6</text><text class="t" x="1404" y="148">群馬中央病院附属介護老人保健施設</text><text class="s" x="1405.8" y="165"><tspan class="k">旧名称：</tspan><tspan x="1437">群馬社会保険介護老人保健施設サンビューぐんま</tspan></text></g>
<g id="c7"><circle cx="1394.3" cy="200.7" r="6.6" fill="#1d86c6"/><text class="n" x="1394.3" y="204.3">7</text><text class="t" x="1404" y="205.7">埼玉メディカルセンター附属介護老人保健施設</text><text class="s" x="1405.8" y="222.7"><tspan class="k">旧名称：</tspan><tspan x="1437">埼玉社会保険介護老人保健施設サンビュー埼玉</tspan></text></g>
<g id="c8"><circle cx="1394.3" cy="258.3" r="6.6" fill="#1d86c6"/><text class="n" x="1394.3" y="261.9">8</text><text class="t" x="1404" y="263.3">千葉病院附属介護老人保健施設</text><text class="s" x="1405.8" y="280.3"><tspan class="k">旧名称：</tspan><tspan x="1437">千葉社会保険介護老人保健施設サンビューちば</tspan></text></g>
<g id="c9"><circle cx="1394.3" cy="315.7" r="6.6" fill="#1d86c6"/><text class="n" x="1394.3" y="319.3">9</text><text class="t" x="1404" y="320.7">東京城東病院附属介護老人保健施設</text><text class="s" x="1405.8" y="337.7"><tspan class="k">旧名称：</tspan><tspan x="1437">城東社会保険介護老人保健施設サンビュー城東</tspan></text></g>
<g id="c10"><circle cx="1394.3" cy="373.3" r="6.6" fill="#1d86c6"/><text class="n2" x="1394.3" y="376.4">10</text><text class="t" x="1404" y="378.3">金沢病院附属介護老人保健施設</text><text class="s" x="1405.8" y="395.3"><tspan class="k">旧名称：</tspan><tspan x="1437">金沢社会保険介護老人保健施設サンビューかなざわ</tspan></text></g>
<g id="c11"><rect x="1379.4" y="416.7" width="305" height="44" fill="none" stroke="#d7252d" stroke-width="3.6"/><circle cx="1394.3" cy="430.7" r="6.6" fill="#1d86c6"/><text class="n2" x="1394.3" y="433.8">11</text><text class="t" x="1404" y="435.7">福井勝山総合病院附属介護老人保健施設</text><text class="s" x="1405.8" y="452.7"><tspan class="k">旧名称：</tspan><tspan x="1437">福井社会保険介護老人保健施設サンビューかつやま</tspan></text></g>
<g id="c12"><circle cx="1394.3" cy="488.3" r="6.6" fill="#1d86c6"/><text class="n2" x="1394.3" y="491.4">12</text><text class="t" x="1404" y="493.3">若狭高浜病院附属介護老人保健施設</text><text class="s" x="1405.8" y="510.3"><tspan class="k">旧名称：</tspan><tspan x="1437">高浜社会保険介護老人保健施設サンビュー高浜</tspan></text></g>
<g id="c13"><circle cx="1394.3" cy="545.3" r="6.6" fill="#1d86c6"/><text class="n2" x="1394.3" y="548.4">13</text><text class="t" x="1404" y="550.3">可児とうのう病院附属介護老人保健施設</text><text class="s" x="1405.8" y="567.3"><tspan class="k">旧名称：</tspan><tspan x="1437">岐阜社会保険介護老人保健施設サンビュー可児</tspan></text></g>
<g id="c14"><circle cx="1394.3" cy="603" r="6.6" fill="#1d86c6"/><text class="n2" x="1394.3" y="606.1">14</text><text class="t" x="1404" y="608">三島総合病院附属介護老人保健施設</text><text class="s" x="1405.8" y="625"><tspan class="k">旧名称：</tspan><tspan x="1437">三島社会保険介護老人保健施設サンビューみしま</tspan></text></g>
<g id="c15"><circle cx="1394.3" cy="660.3" r="6.6" fill="#1d86c6"/><text class="n2" x="1394.3" y="663.4">15</text><text class="t" x="1404" y="665.3">中京病院附属介護老人保健施設</text><text class="s" x="1405.8" y="682.3"><tspan class="k">旧名称：</tspan><tspan x="1437">中京社会保険老人保健施設あゆちの郷</tspan></text></g>
<g id="c16"><circle cx="1394.3" cy="717.7" r="6.6" fill="#1d86c6"/><text class="n2" x="1394.3" y="720.8">16</text><text class="t" x="1404" y="722.7" textLength="233" lengthAdjust="spacingAndGlyphs">四日市羽津医療センター附属介護老人保健施設</text><text class="s" x="1405.8" y="739.7"><tspan class="k">旧名称：</tspan><tspan x="1437">四日市社会保険介護老人保健施設サンビュー四日市</tspan></text></g>
<g id="c17"><circle cx="1394.3" cy="775.3" r="6.6" fill="#1d86c6"/><text class="n2" x="1394.3" y="778.4">17</text><text class="t" x="1404" y="780.3">滋賀病院附属介護老人保健施設</text><text class="s" x="1405.8" y="797.3"><tspan class="k">旧名称：</tspan><tspan x="1437">滋賀社会保険介護老人保健施設サンビューしが</tspan></text></g>
<g id="c18"><circle cx="1394.3" cy="833" r="6.6" fill="#1d86c6"/><text class="n2" x="1394.3" y="836.1">18</text><text class="t" x="1404" y="838">神戸中央病院附属介護老人保健施設</text><text class="s" x="1405.8" y="855"><tspan class="k">旧名称：</tspan><tspan x="1437">神戸社会保険介護老人保健施設ヴィバ・サン神戸</tspan></text></g>
<g id="c19"><circle cx="1394.3" cy="890.3" r="6.6" fill="#1d86c6"/><text class="n2" x="1394.3" y="893.4">19</text><text class="t" x="1404" y="895.3">下関医療センター附属介護老人保健施設</text><text class="s" x="1405.8" y="912.3"><tspan class="k">旧名称：</tspan><tspan x="1437">下関社会保険介護老人保健施設サンビュー下関</tspan></text></g>
<g id="c20"><circle cx="1394.3" cy="948" r="6.6" fill="#1d86c6"/><text class="n2" x="1394.3" y="951.1">20</text><text class="t" x="1404" y="953">徳山中央病院附属介護老人保健施設</text><text class="s" x="1405.8" y="970"><tspan class="k">旧名称：</tspan><tspan x="1437">徳山社会保険介護老人保健施設セラヴィ徳山</tspan></text></g>
<g id="c21"><circle cx="1394.3" cy="1005" r="6.6" fill="#1d86c6"/><text class="n2" x="1394.3" y="1008.1">21</text><text class="t" x="1404" y="1010">宇和島病院附属介護老人保健施設</text><text class="s" x="1405.8" y="1027"><tspan class="k">旧名称：</tspan><tspan x="1437">宇和島社会保険介護老人保健施設パール荘</tspan></text></g>
<g id="c25"><circle cx="1733.9" cy="28" r="6.6" fill="#1d86c6"/><text class="n2" x="1733.9" y="31.1">25</text><text class="t" x="1745" y="33">南海医療センター附属介護老人保健施設</text><text class="s" x="1746.7" y="50"><tspan class="k">旧名称：</tspan><tspan x="1779.5">南海社会保険介護老人保健施設サンビュー南海</tspan></text></g>
<g id="c26"><circle cx="1733.9" cy="85.7" r="6.6" fill="#1d86c6"/><text class="n2" x="1733.9" y="88.8">26</text><text class="t" x="1745" y="90.7">宮崎江南病院附属介護老人保健施設</text><text class="s" x="1746.7" y="107.7"><tspan class="k">旧名称：</tspan><tspan x="1779.5" textLength="230" lengthAdjust="spacingAndGlyphs">社会保険宮崎江南介護老人保健施設サンビュー宮崎</tspan></text></g>
</g>

<g id="nursing-list">
<rect x="1722" y="148" width="298" height="21" fill="#c75f96"/><text class="h" x="1790" y="163.2" textLength="159.5">看護専門学校（7 施設）</text>
<g id="s1"><circle cx="1733.9" cy="200.7" r="6.6" fill="#c75f96"/><text class="n" x="1733.9" y="204.3">1</text><text class="t" x="1745" y="205.7">船橋中央病院附属看護専門学校</text><text class="s" x="1746.7" y="222.7"><tspan class="k">旧名称：</tspan><tspan x="1779.5">社会保険船橋保健看護専門学校</tspan></text></g>
<g id="s2"><circle cx="1733.9" cy="258.3" r="6.6" fill="#c75f96"/><text class="n" x="1733.9" y="261.9">2</text><text class="t" x="1745" y="263.3">東京新宿メディカルセンター附属看護専門学校</text><text class="s" x="1746.7" y="280.3"><tspan class="k">旧名称：</tspan><tspan x="1779.5">東京厚生年金看護専門学校</tspan></text></g>
<g id="s3"><circle cx="1733.9" cy="315.7" r="6.6" fill="#c75f96"/><text class="n" x="1733.9" y="319.3">3</text><text class="t" x="1745" y="320.7">東京山手メディカルセンター附属看護専門学校</text><text class="s" x="1746.7" y="337.7"><tspan class="k">旧名称：</tspan><tspan x="1779.5">社会保険中央看護専門学校</tspan></text></g>
<g id="s4"><circle cx="1733.9" cy="373.3" r="6.6" fill="#c75f96"/><text class="n" x="1733.9" y="376.9">4</text><text class="t" x="1745" y="378.3">横浜中央病院附属看護専門学校</text><text class="s" x="1746.7" y="395.3"><tspan class="k">旧名称：</tspan><tspan x="1779.5">社会保険横浜看護専門学校</tspan></text></g>
<g id="s5"><circle cx="1733.9" cy="430.7" r="6.6" fill="#c75f96"/><text class="n" x="1733.9" y="434.3">5</text><text class="t" x="1745" y="435.7">中京病院附属看護専門学校</text><text class="s" x="1746.7" y="452.7"><tspan class="k">旧名称：</tspan><tspan x="1779.5">社会保険中京看護専門学校</tspan></text></g>
<g id="s6"><circle cx="1733.9" cy="488.3" r="6.6" fill="#c75f96"/><text class="n" x="1733.9" y="491.9">6</text><text class="t" x="1745" y="493.3">大阪病院附属看護専門学校</text><text class="s" x="1746.7" y="510.3"><tspan class="k">旧名称：</tspan><tspan x="1779.5">大阪厚生年金看護専門学校</tspan></text></g>
<g id="s7"><circle cx="1733.9" cy="545.3" r="6.6" fill="#c75f96"/><text class="n" x="1733.9" y="548.9">7</text><text class="t" x="1745" y="550.3">神戸中央病院附属看護専門学校</text><text class="s" x="1746.7" y="567.3"><tspan class="k">旧名称：</tspan><tspan x="1779.5">社会保険神戸看護専門学校</tspan></text></g>
</g>

<g id="health-list">
<rect x="1722" y="606" width="298" height="21" fill="#e36f45"/><text class="h" x="1782" y="621.2" textLength="175">健康増進ホーム（3 施設）</text>
<text class="p" x="1723.6" y="659.2">健康増進ホームは、生活習慣を見直し、効</text>
<text class="p" x="1723.6" y="685.8">果的な食事・運動を習得するため、食事と</text>
<text class="p" x="1723.6" y="712.2">運動を基本に温泉地の特性を生かした温泉</text>
<text class="p" x="1723.6" y="738.2">療養をおこなう施設です。</text>
<g id="h1"><circle cx="1733.9" cy="775.3" r="6.6" fill="#e36f45"/><text class="n" x="1733.9" y="778.9">1</text><text class="t sp" x="1745" y="780.3">湯河原病院附属健康増進ホーム</text><text class="s" x="1746.7" y="797.3"><tspan class="k">旧名称：</tspan><tspan x="1779.5">湯河原厚生年金保養ホーム</tspan></text></g>
<g id="h2"><circle cx="1733.9" cy="833" r="6.6" fill="#e36f45"/><text class="n" x="1733.9" y="836.6">2</text><text class="t sp" x="1745" y="838">玉造病院附属健康増進ホーム</text><text class="s" x="1746.7" y="855"><tspan class="k">旧名称：</tspan><tspan x="1779.5">玉造厚生年金保養ホーム</tspan></text></g>
<g id="h3"><circle cx="1733.9" cy="890.3" r="6.6" fill="#e36f45"/><text class="n" x="1733.9" y="893.9">3</text><text class="t sp" x="1745" y="895.3">湯布院病院附属健康増進ホーム</text><text class="s" x="1746.7" y="912.3"><tspan class="k">旧名称：</tspan><tspan x="1779.5">湯布院厚生年金保養ホーム</tspan></text></g>
</g>

<g id="training-list">
<rect x="1722" y="958" width="298" height="21" fill="#1db0e0"/><text class="h" x="1790" y="973.2" textLength="159.5">研修センター（1 施設）</text>
<g id="t1"><circle cx="1733.9" cy="1005" r="6.6" fill="#1db0e0"/><text class="n" x="1733.9" y="1008.6">1</text><text class="t sp" x="1745" y="1010">研修センター</text><text class="s" x="1746.7" y="1027"><tspan class="k">旧名称：</tspan><tspan x="1779.5">社会保険看護研修センター</tspan></text></g>
</g>
</svg>
